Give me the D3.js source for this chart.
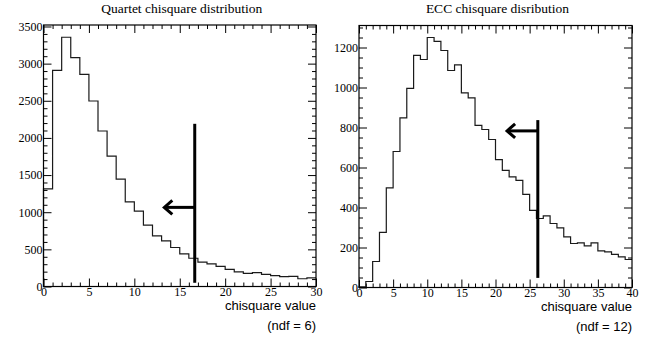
<!DOCTYPE html>
<html>
<head>
<meta charset="utf-8">
<script src="https://cdn.jsdelivr.net/npm/d3@7"></script>
<style>
  body { margin: 0; background: #fff; }
  svg { display: block; }
  .tick text { font-family: "Liberation Serif", "Times New Roman", serif; font-size: 12px; }
</style>
</head>
<body>
<div id="chart"></div>
<script>
// Quartet chisquare histogram: 30 bins of width 1, 0..30
const quartetCounts = [1315, 2910, 3355, 3080, 2855, 2497, 2093, 1755, 1445, 1140,
  1015, 827, 682, 613, 525, 440, 380, 328, 304, 272,
  230, 196, 178, 187, 163, 146, 133, 136, 104, 115];
// ECC chisquare histogram: 40 bins of width 1, 0..40
const eccCounts = [3, 30, 130, 276, 498, 680, 848, 996, 1161, 1140,
  1250, 1231, 1185, 1085, 1113, 973, 948, 811, 790, 740,
  639, 586, 553, 536, 466, 386, 345, 358, 320, 298,
  253, 220, 223, 208, 223, 183, 178, 166, 153, 140];

// cut markers: position of the cut, line extent and arrow
const quartetCut = { x: 16.65, yLow: 50, yHigh: 2190, arrowY: 1065, arrowTip: 13.3 };
const eccCut = { x: 26.2, yLow: 48, yHigh: 837, arrowY: 783, arrowTip: 21.7 };

const quartetYTicks = [0, 500, 1000, 1500, 2000, 2500, 3000, 3500];
const eccYTicks = [0, 200, 400, 600, 800, 1000, 1200];

const serif = "'Liberation Serif', 'Times New Roman', serif";
const sans = "'Liberation Sans', Arial, sans-serif";

const svg = d3.select("#chart").append("svg")
  .attr("width", 655)
  .attr("height", 340);

function drawPanel(opts) {
  const { left, right, top, bottom, xMax, yMax, counts, cut, yTicks, yMinorStep, title, ndf, labelY } = opts;

  const x = d3.scaleLinear().domain([0, xMax]).range([left, right]);
  const y = d3.scaleLinear().domain([0, yMax]).range([bottom, top]);

  const g = svg.append("g");

  // Title
  g.append("text")
    .attr("x", (left + right) / 2 + 2)
    .attr("y", 13)
    .attr("text-anchor", "middle")
    .style("font-family", serif)
    .style("font-size", "13.5px")
    .text(title);

  const xMajor = d3.range(0, xMax + 1, 5);
  const xMinor = d3.range(0, xMax + 1, 1).filter(v => v % 5 !== 0);
  const yMinor = d3.range(0, yMax, yMinorStep).filter(v => !yTicks.includes(v));
  const fmt = d3.format("d");

  function styleAxis(sel) {
    sel.attr("font-family", serif).attr("font-size", 12);
    sel.select(".domain").remove();
    sel.selectAll("line").attr("stroke", "#000").attr("stroke-width", 1);
    sel.selectAll("text").attr("fill", "#000");
  }

  // Bottom axis (ticks inside)
  g.append("g").attr("transform", `translate(0,${bottom})`)
    .call(d3.axisBottom(x).tickValues(xMajor).tickFormat(fmt).tickSize(-8).tickSizeOuter(0).tickPadding(1))
    .call(styleAxis);
  g.append("g").attr("transform", `translate(0,${bottom})`)
    .call(d3.axisBottom(x).tickValues(xMinor).tickSize(-4).tickSizeOuter(0).tickFormat(""))
    .call(styleAxis);
  // Top axis mirror
  g.append("g").attr("transform", `translate(0,${top})`)
    .call(d3.axisTop(x).tickValues(xMajor).tickSize(-8).tickSizeOuter(0).tickFormat(""))
    .call(styleAxis);
  g.append("g").attr("transform", `translate(0,${top})`)
    .call(d3.axisTop(x).tickValues(xMinor).tickSize(-4).tickSizeOuter(0).tickFormat(""))
    .call(styleAxis);

  // Left axis
  g.append("g").attr("transform", `translate(${left},0)`)
    .call(d3.axisLeft(y).tickValues(yTicks).tickFormat(fmt).tickSize(-8).tickSizeOuter(0).tickPadding(1))
    .call(styleAxis);
  g.append("g").attr("transform", `translate(${left},0)`)
    .call(d3.axisLeft(y).tickValues(yMinor).tickSize(-4).tickSizeOuter(0).tickFormat(""))
    .call(styleAxis);
  // Right axis mirror
  g.append("g").attr("transform", `translate(${right},0)`)
    .call(d3.axisRight(y).tickValues(yTicks).tickSize(-8).tickSizeOuter(0).tickFormat(""))
    .call(styleAxis);
  g.append("g").attr("transform", `translate(${right},0)`)
    .call(d3.axisRight(y).tickValues(yMinor).tickSize(-4).tickSizeOuter(0).tickFormat(""))
    .call(styleAxis);

  // Histogram outline (step)
  const pts = [[x(0), y(0)]];
  counts.forEach((c, i) => {
    pts.push([x(i), y(c)]);
    pts.push([x(i + 1), y(c)]);
  });
  g.append("path")
    .attr("d", d3.line()(pts))
    .attr("fill", "none")
    .attr("stroke", "#1a1a1a")
    .attr("stroke-width", 1.2);

  // Frame
  g.append("rect")
    .attr("x", left).attr("y", top)
    .attr("width", right - left).attr("height", bottom - top)
    .attr("fill", "none")
    .attr("stroke", "#000")
    .attr("stroke-width", 1.2);

  // Cut line
  g.append("line")
    .attr("x1", x(cut.x)).attr("x2", x(cut.x))
    .attr("y1", y(cut.yLow)).attr("y2", y(cut.yHigh))
    .attr("stroke", "#000")
    .attr("stroke-width", 3);

  // Arrow pointing left
  const ay = y(cut.arrowY);
  const tip = x(cut.arrowTip);
  g.append("line")
    .attr("x1", x(cut.x)).attr("x2", tip + 1)
    .attr("y1", ay).attr("y2", ay)
    .attr("stroke", "#000")
    .attr("stroke-width", 3);
  g.append("path")
    .attr("d", `M${tip + 8},${ay - 7}L${tip},${ay}L${tip + 8},${ay + 7}`)
    .attr("fill", "none")
    .attr("stroke", "#000")
    .attr("stroke-width", 3)
    .attr("stroke-linejoin", "miter");

  // X-axis title
  g.append("text")
    .attr("x", right)
    .attr("y", labelY)
    .attr("text-anchor", "end")
    .style("font-family", sans)
    .style("font-size", "13px")
    .text("chisquare value");
  g.append("text")
    .attr("x", right)
    .attr("y", labelY + 20)
    .attr("text-anchor", "end")
    .style("font-family", sans)
    .style("font-size", "13px")
    .text(ndf);
}

drawPanel({
  left: 43.5, right: 316, top: 25, bottom: 286.5,
  xMax: 30, yMax: 3520, counts: quartetCounts, cut: quartetCut,
  yTicks: quartetYTicks, yMinorStep: 100,
  title: "Quartet chisquare distribution", ndf: "(ndf = 6)", labelY: 310
});

drawPanel({
  left: 359, right: 632, top: 25.5, bottom: 287.5,
  xMax: 40, yMax: 1310, counts: eccCounts, cut: eccCut,
  yTicks: eccYTicks, yMinorStep: 50,
  title: "ECC chisquare disribution", ndf: "(ndf = 12)", labelY: 311
});
</script>
</body>
</html>
